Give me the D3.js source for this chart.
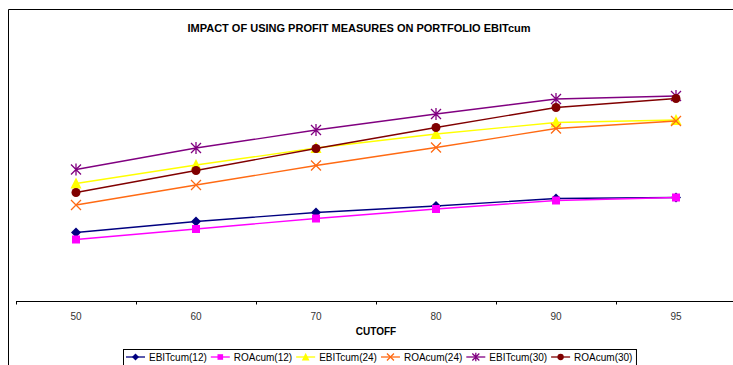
<!DOCTYPE html>
<html>
<head>
<meta charset="utf-8">
<script src="https://cdn.jsdelivr.net/npm/d3@7"></script>
<style>
  body { margin: 0; background: #fff; }
  svg { display: block; font-family: "Liberation Sans", Arial, sans-serif; }
</style>
</head>
<body>
<div class="chart-container"></div>
<script>
// cutoff categories along the x axis
var cutoffs = ["50", "60", "70", "80", "90", "95"];

// series values (arbitrary units)
var ebit12 = [0.69, 0.80, 0.89, 0.955, 1.03, 1.04];
var roa12  = [0.62, 0.725, 0.83, 0.925, 1.01, 1.04];
var ebit24 = [1.18, 1.365, 1.535, 1.675, 1.79, 1.815];
var roa24  = [0.965, 1.165, 1.36, 1.54, 1.73, 1.805];
var ebit30 = [1.32, 1.535, 1.715, 1.875, 2.025, 2.055];
var roa30  = [1.09, 1.31, 1.53, 1.74, 1.94, 2.03];

var seriesNames = ["EBITcum(12)", "ROAcum(12)", "EBITcum(24)", "ROAcum(24)", "EBITcum(30)", "ROAcum(30)"];

var series = [
  {name: seriesNames[0], values: ebit12, color: "#000080", marker: "diamond"},
  {name: seriesNames[1], values: roa12,  color: "#FF00FF", marker: "square"},
  {name: seriesNames[2], values: ebit24, color: "#FFFF00", marker: "triangle"},
  {name: seriesNames[3], values: roa24,  color: "#FF6A13", marker: "x"},
  {name: seriesNames[4], values: ebit30, color: "#800080", marker: "star"},
  {name: seriesNames[5], values: roa30,  color: "#800000", marker: "circle"}
];

var W = 733, H = 365;
var axisY = 301.5;

var svg = d3.select(".chart-container").append("svg")
    .attr("width", W)
    .attr("height", H);

// chart area border (only top and left visible)
svg.append("path")
    .attr("d", "M8.5," + H + "V9.5H" + W)
    .attr("fill", "none")
    .attr("stroke", "#000")
    .attr("stroke-width", 1);

var x = d3.scaleBand()
    .domain(cutoffs)
    .range([16, 736])
    .padding(0);

var y = d3.scaleLinear()
    .domain([0, 2.6])
    .range([axisY, axisY - 260]);

function cx(i) { return x(cutoffs[i]) + x.bandwidth() / 2; }

// title
svg.append("text")
    .attr("x", 359)
    .attr("y", 32)
    .attr("text-anchor", "middle")
    .style("font-size", "11px")
    .style("font-weight", "bold")
    .text("IMPACT OF USING PROFIT MEASURES ON PORTFOLIO EBITcum");

// x axis: labels centred in bands, ticks on band edges
var xAxis = svg.append("g")
    .attr("class", "x axis")
    .attr("transform", "translate(0," + axisY + ")");

xAxis.append("line")
    .attr("x1", 16).attr("x2", W)
    .attr("stroke", "#000");

var edges = cutoffs.map(function(c) { return x(c); }).concat([x.range()[1]]);
xAxis.selectAll(".tick")
    .data(edges)
  .enter().append("line")
    .attr("class", "tick")
    .attr("x1", function(d) { return Math.round(d) + 0.5; })
    .attr("x2", function(d) { return Math.round(d) + 0.5; })
    .attr("y1", 0).attr("y2", 3)
    .attr("stroke", "#000");

xAxis.selectAll(".lbl")
    .data(cutoffs)
  .enter().append("text")
    .attr("class", "lbl")
    .attr("x", function(d) { return x(d) + x.bandwidth() / 2; })
    .attr("y", 18)
    .attr("text-anchor", "middle")
    .attr("fill", "#333")
    .style("font-size", "10px")
    .text(function(d) { return d; });

svg.append("text")
    .attr("x", 376)
    .attr("y", 335)
    .attr("text-anchor", "middle")
    .style("font-size", "10px")
    .style("font-weight", "bold")
    .text("CUTOFF");

// marker drawing
function drawMarker(g, type, color, px, py, s) {
  s = s || 1;
  if (type === "diamond") {
    g.append("path").attr("d", "M" + px + "," + (py - 5*s) + "L" + (px + 5*s) + "," + py + "L" + px + "," + (py + 5*s) + "L" + (px - 5*s) + "," + py + "Z")
      .attr("fill", color);
  } else if (type === "square") {
    g.append("rect").attr("x", px - 4*s).attr("y", py - 4*s).attr("width", 8*s).attr("height", 8*s)
      .attr("fill", color);
  } else if (type === "triangle") {
    g.append("path").attr("d", "M" + px + "," + (py - 6*s) + "L" + (px + 5.5*s) + "," + (py + 5*s) + "L" + (px - 5.5*s) + "," + (py + 5*s) + "Z")
      .attr("fill", color);
  } else if (type === "x") {
    g.append("path").attr("d", "M" + (px - 5*s) + "," + (py - 5*s) + "L" + (px + 5*s) + "," + (py + 5*s) + "M" + (px + 5*s) + "," + (py - 5*s) + "L" + (px - 5*s) + "," + (py + 5*s))
      .attr("stroke", color).attr("stroke-width", 1.3).attr("fill", "none");
  } else if (type === "star") {
    g.append("path").attr("d", "M" + (px - 5*s) + "," + (py - 5*s) + "L" + (px + 5*s) + "," + (py + 5*s) + "M" + (px + 5*s) + "," + (py - 5*s) + "L" + (px - 5*s) + "," + (py + 5*s) + "M" + px + "," + (py - 6*s) + "L" + px + "," + (py + 6*s))
      .attr("stroke", color).attr("stroke-width", 1.3).attr("fill", "none");
  } else if (type === "circle") {
    g.append("circle").attr("cx", px).attr("cy", py).attr("r", 4.5*s)
      .attr("fill", color);
  }
}

var line = d3.line()
    .x(function(d, i) { return cx(i); })
    .y(function(d) { return y(d); });

series.forEach(function(s) {
  var g = svg.append("g").attr("class", "series");
  g.append("path")
      .datum(s.values)
      .attr("d", line)
      .attr("fill", "none")
      .attr("stroke", s.color)
      .attr("stroke-width", 1.3);
  s.values.forEach(function(v, i) {
    drawMarker(g, s.marker, s.color, cx(i), y(v));
  });
});

// legend
var legend = svg.append("g").attr("class", "legend");
var box = legend.append("rect")
    .attr("fill", "#fff")
    .attr("stroke", "#000");

var lx = 126, ly = 357;
series.forEach(function(s) {
  var g = legend.append("g");
  g.append("line")
      .attr("x1", lx).attr("x2", lx + 19)
      .attr("y1", ly).attr("y2", ly)
      .attr("stroke", s.color).attr("stroke-width", 1.3);
  drawMarker(g, s.marker, s.color, lx + 9.5, ly, 0.7);
  var t = g.append("text")
      .attr("x", lx + 23)
      .attr("y", ly + 3.5)
      .style("font-size", "10px")
      .text(s.name);
  lx += 23 + t.node().getComputedTextLength() + 4;
});

box.attr("x", 123.5).attr("y", 349.5)
    .attr("width", lx - 123.5)
    .attr("height", 20);
</script>
</body>
</html>
